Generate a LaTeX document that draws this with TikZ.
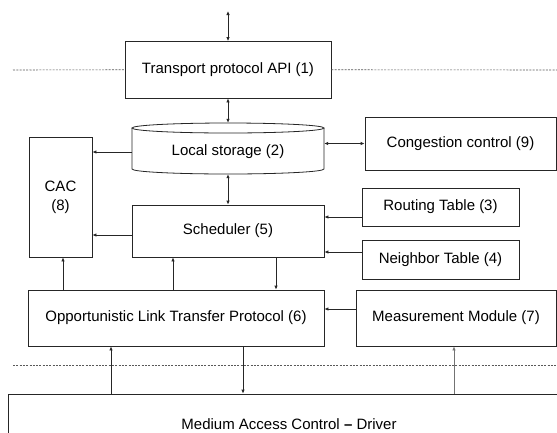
\documentclass[tikz,border=0pt]{standalone}
\usepackage{fontspec}
\setmainfont{Liberation Sans}
\usetikzlibrary{arrows.meta}
\begin{document}
\begin{tikzpicture}[x=1pt,y=-1pt,
  box/.style={draw=black!85, line width=0.8pt, inner sep=0pt, align=center,
    font=\fontsize{15}{19}\selectfont},
  arr/.style={line width=0.8pt, draw=black!85, -{Latex[length=4pt,width=3.5pt]}},
  darr/.style={line width=0.8pt, draw=black!85, {Latex[length=4pt,width=3.5pt]}-{Latex[length=4pt,width=3.5pt]}},
  sep/.style={draw=black!65, line width=0.6pt, dash pattern=on 2pt off 1.3pt}]
\clip (0,0) rectangle (557,432);
\fill[white] (0,0) rectangle (557,432);

% nodes
\node[box, minimum width=206pt, minimum height=56.5pt] (tp) at (228,69.75) {Transport protocol API (1)};
\node[inner sep=0pt, minimum width=192pt, minimum height=51pt] (ls) at (228,148.5) {};
\node[font=\fontsize{15}{19}\selectfont, inner sep=0pt] (lstext) at (228,152) {Local storage (2)};
\node[box, minimum width=191pt, minimum height=53pt] (cc) at (460.5,143.5) {Congestion control (9)};
\node[box, minimum width=63pt, minimum height=120pt] (cac) at (60.5,197) {CAC\\(8)};
\node[box, minimum width=192pt, minimum height=52pt] (sch) at (228,231) {Scheduler (5)};
\node[box, minimum width=157pt, minimum height=38pt] (rt) at (440.5,207) {Routing Table (3)};
\node[box, minimum width=157pt, minimum height=39pt] (nt) at (440.5,259.5) {Neighbor Table (4)};
\node[box, minimum width=296pt, minimum height=56pt] (oltp) at (176,318) {Opportunistic Link Transfer Protocol (6)};
\node[box, minimum width=200pt, minimum height=56pt] (mm) at (456,318) {Measurement Module (7)};
\node[box, minimum width=562pt, minimum height=60pt] (mac) at (289,424) {Medium Access Control \textbf{–} Driver};

% cylinder
\draw[draw=black!85, line width=0.8pt] (228,128) ellipse [x radius=96pt, y radius=5pt];
\draw[draw=black!85, line width=0.8pt] (132,128) -- (132,169)
  arc[start angle=180, end angle=360, x radius=96pt, y radius=5pt] -- (324,128);

% separators
\coordinate (s1l) at (13,70);
\coordinate (s1r) at (557,70);
\coordinate (s2l) at (13,365);
\coordinate (s2r) at (557,365);
\draw[sep] (s1l) -- (tp.west);
\draw[sep] (tp.east) -- (s1r);
\draw[sep] (s2l) -- (s2r);

% connectors
\coordinate (top) at (228,11);
\draw[darr] (top) -- (tp.north);
\draw[darr] (tp.south) -- (ls.north);
\draw[darr] (ls.south) -- (sch.north);
\draw[darr] (ls.east |- cc.west) -- (cc.west);
\draw[arr] ([yshift=-3.5pt]ls.west) -- ([yshift=-3.5pt]ls.west -| cac.east);
\draw[arr] ([yshift=-4pt]sch.west) -- ([yshift=-4pt]sch.west -| cac.east);
\draw[arr] ([yshift=-10pt]rt.west) -- ([yshift=-10pt]rt.west -| sch.east);
\draw[arr] ([yshift=7.5pt]nt.west) -- ([yshift=7.5pt]nt.west -| sch.east);
\draw[arr] (oltp.north -| 63,0) -- (cac.south -| 63,0);
\draw[arr] (oltp.north -| 173,0) -- (sch.south -| 173,0);
\draw[arr] (sch.south -| 276,0) -- (oltp.north -| 276,0);
\draw[arr] ([yshift=9pt]mm.west) -- ([yshift=9pt]mm.west -| oltp.east);
\draw[arr] (mac.north -| 111,0) -- (oltp.south -| 111,0);
\draw[arr] (oltp.south -| 243,0) -- (mac.north -| 243,0);
\draw[arr, draw=black!55] (mac.north -| 454,0) -- (mm.south -| 454,0);
\end{tikzpicture}
\end{document}
